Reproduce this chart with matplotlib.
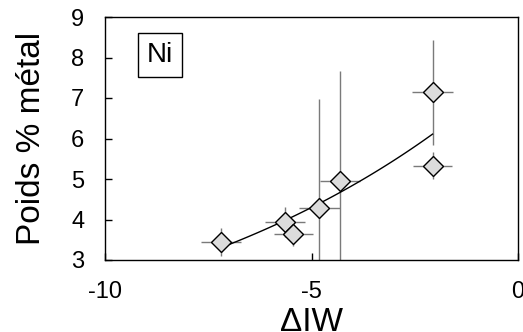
import numpy as np
import matplotlib
matplotlib.use("Agg")
import matplotlib.pyplot as plt
from matplotlib.patches import Rectangle

plt.rcParams['font.family'] = ['Liberation Sans', 'DejaVu Sans']
plt.rcParams['axes.unicode_minus'] = False

dIW = [-7.19, -5.64, -5.44, -4.81, -4.31, -2.07, -2.07]
wt = [3.44, 3.95, 3.64, 4.29, 4.94, 7.14, 5.33]
xerr = [0.48, 0.48, 0.48, 0.49, 0.48, 0.5, 0.48]
yerr_lo = [0.35, 0.37, 0.3, 2.5, 2.5, 1.3, 0.33]
yerr_hi = [0.35, 0.37, 0.3, 2.69, 2.72, 1.29, 0.33]
fit_A = 7.83
fit_b = 0.120
fit_range = [-7.22, -2.07]

W, H = 523, 332
fig = plt.figure(figsize=(W/100, H/100), dpi=100)
ax = fig.add_axes([105/W, 1-260/H, (518-105)/W, (260-17)/H])

ax.errorbar(dIW, wt, xerr=xerr, yerr=[yerr_lo, yerr_hi], fmt='none',
            ecolor='#7a7a7a', elinewidth=1.0, capsize=0, zorder=2)
xf = np.linspace(fit_range[0], fit_range[1], 100)
ax.plot(xf, fit_A*np.exp(fit_b*xf), color='black', lw=1.0, zorder=3)
ax.plot(dIW, wt, linestyle='none', marker='D', ms=10.5, mfc='#dcdcdc',
        mec='black', mew=1.0, zorder=4)

ax.set_xlim(-10, 0)
ax.set_ylim(3, 9)
ax.set_xticks([-10, -5, 0])
ax.set_yticks([3, 4, 5, 6, 7, 8, 9])
ax.tick_params(direction='in', length=5, width=1, labelsize=17)
ax.tick_params(axis='y', pad=15)
ax.tick_params(axis='x', pad=15)
for s in ax.spines.values():
    s.set_linewidth(1.0)
ax.set_xlabel('ΔIW', fontsize=24, labelpad=3)
ax.set_ylabel('Poids % métal', fontsize=24, labelpad=17)

fig.patches.append(Rectangle((137.5/W, 1-77/H), 44.5/W, 44/H, transform=fig.transFigure,
                             fc='white', ec='black', lw=1.0, zorder=5))
fig.text(160/W, 1-55.5/H, 'Ni', fontsize=20, ha='center', va='center', zorder=6)

fig.savefig('out.png', dpi=100)
